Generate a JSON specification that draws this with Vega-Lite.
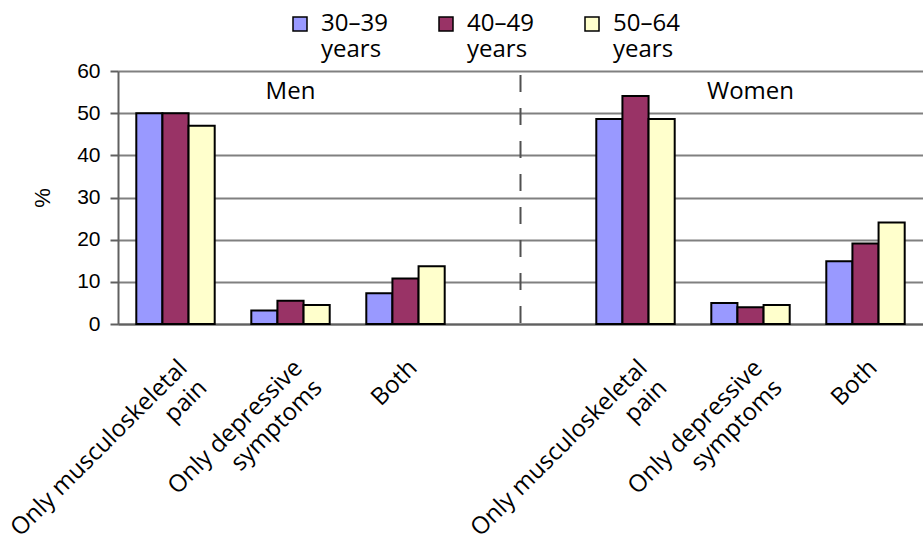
{
  "$schema": "https://vega.github.io/schema/vega-lite/v6.json",
  "autosize": {"type": "none"},
  "padding": {"left": 118, "top": 71, "right": 0, "bottom": 223},
  "width": 805,
  "height": 253,
  "background": "white",
  "config": {"view": {"stroke": null}, "font": "Open Sans"},
  "datasets": {
    "bars": [
      {"slot": "Men: Only musculoskeletal pain", "age": "30–39 years", "value": 50},
      {"slot": "Men: Only musculoskeletal pain", "age": "40–49 years", "value": 50},
      {"slot": "Men: Only musculoskeletal pain", "age": "50–64 years", "value": 47},
      {"slot": "Men: Only depressive symptoms", "age": "30–39 years", "value": 3.2},
      {"slot": "Men: Only depressive symptoms", "age": "40–49 years", "value": 5.5},
      {"slot": "Men: Only depressive symptoms", "age": "50–64 years", "value": 4.5},
      {"slot": "Men: Both", "age": "30–39 years", "value": 7.3},
      {"slot": "Men: Both", "age": "40–49 years", "value": 10.8},
      {"slot": "Men: Both", "age": "50–64 years", "value": 13.7},
      {"slot": "Women: Only musculoskeletal pain", "age": "30–39 years", "value": 48.6},
      {"slot": "Women: Only musculoskeletal pain", "age": "40–49 years", "value": 54.1},
      {"slot": "Women: Only musculoskeletal pain", "age": "50–64 years", "value": 48.6},
      {"slot": "Women: Only depressive symptoms", "age": "30–39 years", "value": 5.0},
      {"slot": "Women: Only depressive symptoms", "age": "40–49 years", "value": 4.0},
      {"slot": "Women: Only depressive symptoms", "age": "50–64 years", "value": 4.5},
      {"slot": "Women: Both", "age": "30–39 years", "value": 14.9},
      {"slot": "Women: Both", "age": "40–49 years", "value": 19.1},
      {"slot": "Women: Both", "age": "50–64 years", "value": 24.1}
    ],
    "panels": [
      {"slot": "Men: Only depressive symptoms", "panel": "Men"},
      {"slot": "Women: Only depressive symptoms", "panel": "Women"}
    ],
    "divider": [{"slot": "(gap)"}]
  },
  "encoding": {
    "x": {
      "field": "slot",
      "type": "nominal",
      "scale": {
        "domain": ["Men: Only musculoskeletal pain", "Men: Only depressive symptoms", "Men: Both", "(gap)", "Women: Only musculoskeletal pain", "Women: Only depressive symptoms", "Women: Both"],
        "paddingInner": 0,
        "paddingOuter": 0
      },
      "axis": {
        "title": null,
        "grid": false,
        "ticks": false,
        "domainColor": "#606060",
        "domainWidth": 2,
        "labelAngle": -45,
        "labelAlign": "right",
        "labelBaseline": "middle",
        "labelFont": "Open Sans",
        "labelFontSize": 24,
        "labelLineHeight": 28,
        "labelPadding": 40,
        "labelOffset": 8,
        "labelLimit": 400,
        "labelColor": "black",
        "labelOverlap": false,
        "labelExpr": "datum.value == '(gap)' ? '' : indexof(datum.value, 'Both') >= 0 ? 'Both' : [slice(datum.value, indexof(datum.value, ': ') + 2, lastindexof(datum.value, ' ')), slice(datum.value, lastindexof(datum.value, ' ') + 1)]"
      }
    }
  },
  "layer": [
    {
      "data": {"name": "bars"},
      "mark": {"type": "bar", "stroke": "black", "strokeWidth": 2},
      "encoding": {
        "xOffset": {
          "field": "age",
          "type": "nominal",
          "scale": {"domain": ["30–39 years", "40–49 years", "50–64 years"], "paddingInner": 0, "paddingOuter": 0.7}
        },
        "y": {
          "field": "value",
          "type": "quantitative",
          "scale": {"domain": [0, 60], "nice": false},
          "axis": {
            "title": "%",
            "titleFont": "Liberation Sans",
            "titleFontSize": 22,
            "titleFontWeight": "normal",
            "titleColor": "black",
            "titlePadding": 22,
            "values": [0, 10, 20, 30, 40, 50, 60],
            "grid": true,
            "gridColor": "#808080",
            "gridWidth": 2,
            "domainColor": "#606060",
            "domainWidth": 2,
            "tickColor": "#606060",
            "tickWidth": 2,
            "tickSize": 8,
            "labelFont": "Liberation Sans",
            "labelFontSize": 21,
            "labelPadding": 10,
            "labelColor": "black"
          }
        },
        "color": {
          "field": "age",
          "type": "nominal",
          "scale": {"domain": ["30–39 years", "40–49 years", "50–64 years"], "range": ["#9999FF", "#993366", "#FFFFCC"]},
          "legend": {
            "orient": "none",
            "legendX": 170,
            "legendY": -59,
            "direction": "horizontal",
            "title": null,
            "padding": 0,
            "symbolType": "square",
            "symbolSize": 196,
            "symbolStrokeColor": "black",
            "symbolStrokeWidth": 1.5,
            "labelFont": "Open Sans",
            "labelFontSize": 24,
            "labelLineHeight": 28,
            "labelOffset": 9,
            "labelColor": "black",
            "columnPadding": 46,
            "labelBaseline": "middle",
            "labelExpr": "split(datum.label, ' ')"
          }
        }
      }
    },
    {
      "data": {"name": "divider"},
      "mark": {"type": "rule", "strokeDash": [17, 16], "strokeDashOffset": 29, "color": "#505050", "strokeWidth": 2},
      "encoding": {}
    },
    {
      "data": {"name": "panels"},
      "mark": {"type": "text", "font": "Open Sans", "fontSize": 24, "baseline": "middle", "color": "black"},
      "encoding": {
        "y": {"datum": 55, "type": "quantitative"},
        "text": {"field": "panel", "type": "nominal"}
      }
    }
  ]
}
